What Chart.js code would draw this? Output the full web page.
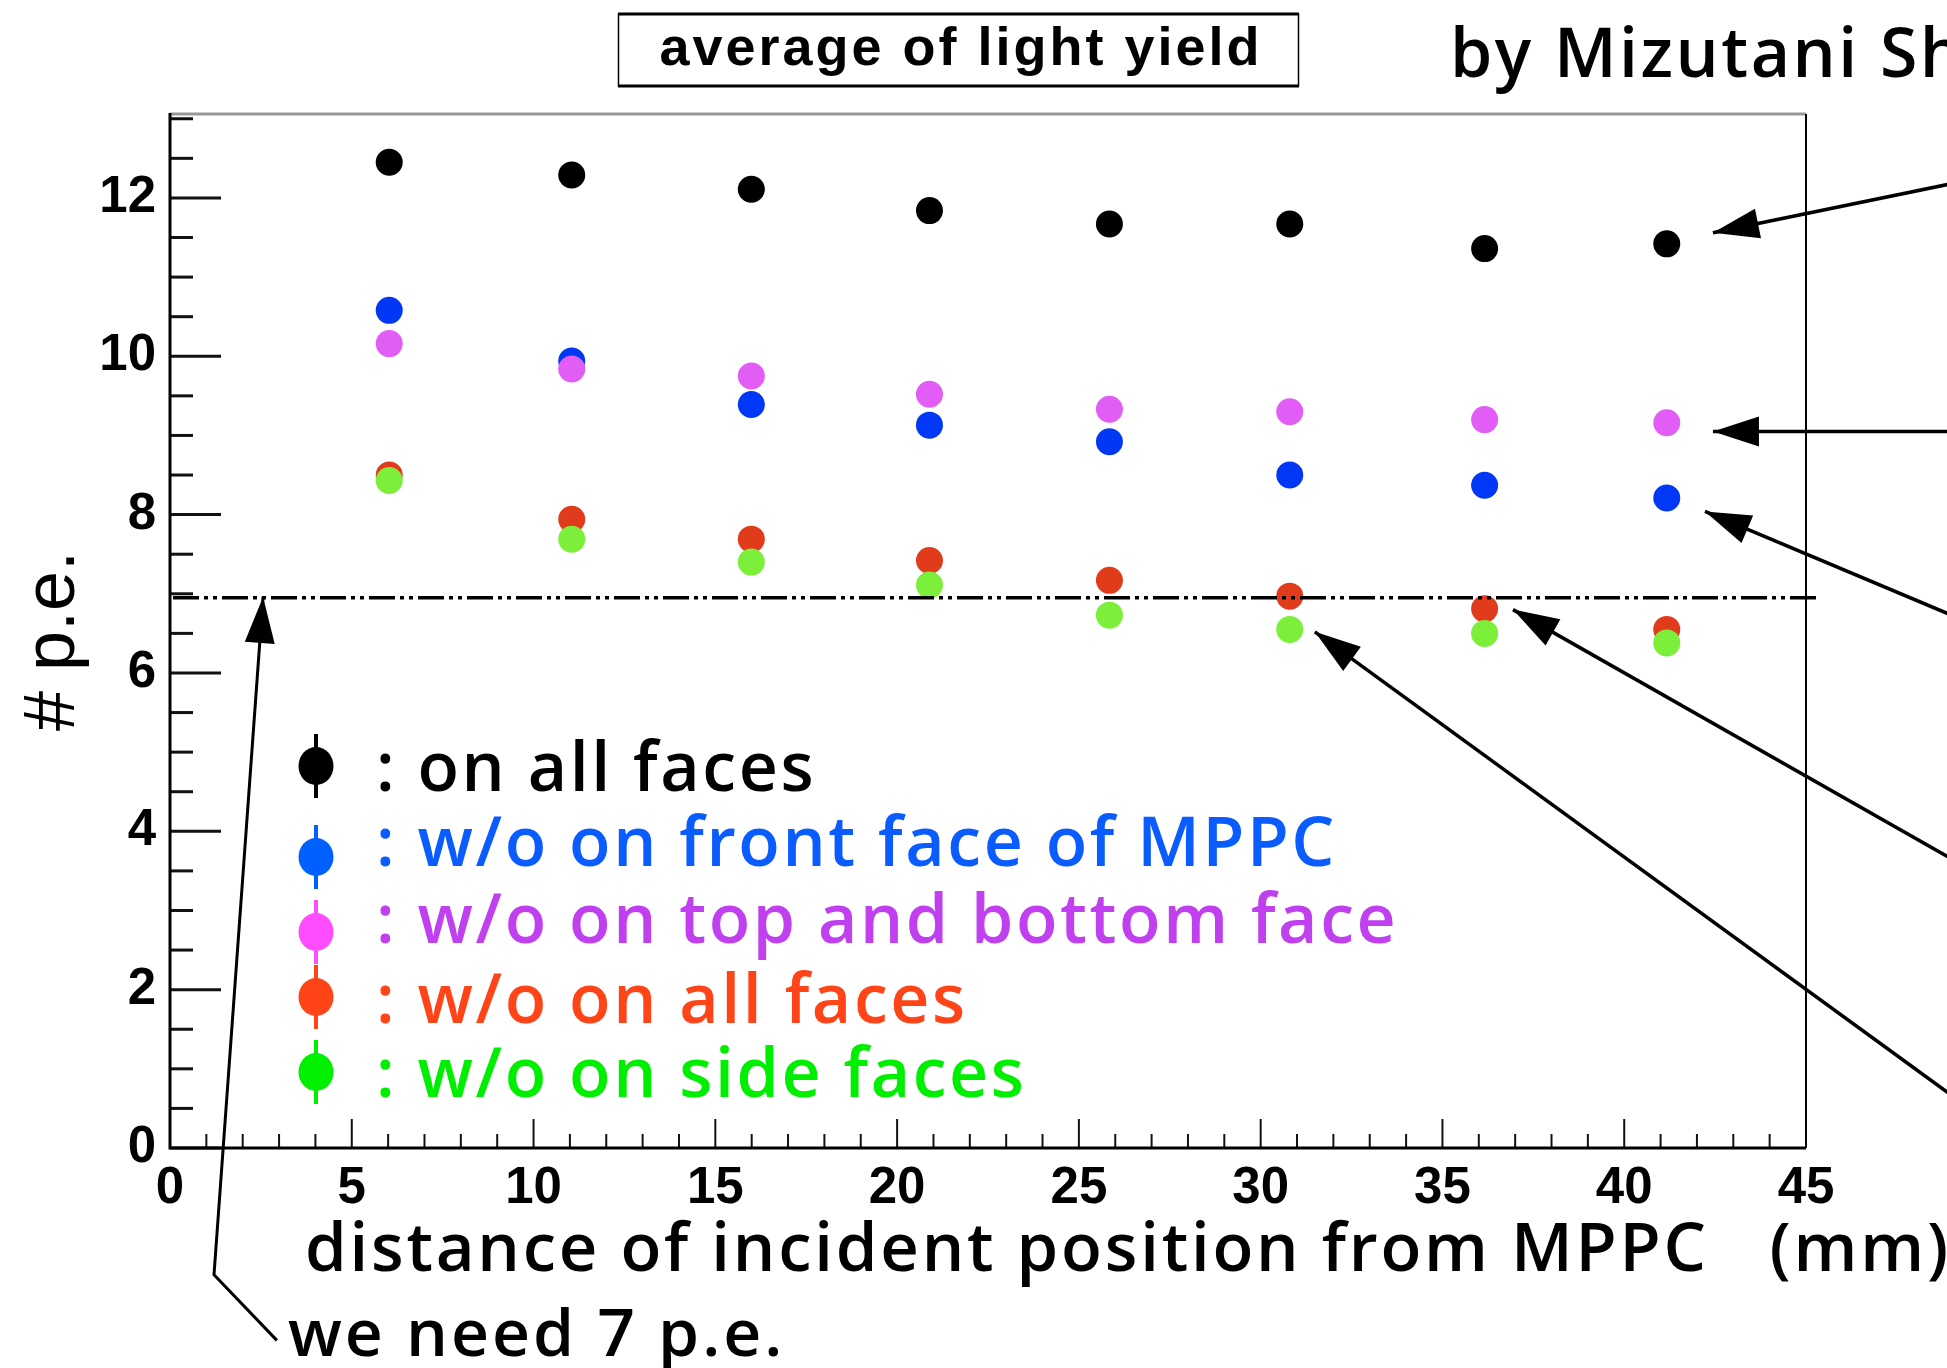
<!DOCTYPE html>
<html>
<head>
<meta charset="utf-8">
<title>average of light yield</title>
<script src="https://cdn.jsdelivr.net/npm/chart.js@4.4.1/dist/chart.umd.min.js"></script>
<style>
  html, body { margin: 0; padding: 0; background: #fff; }
  #wrap { width: 1947px; height: 1368px; }
</style>
</head>
<body>
<div id="wrap"><canvas id="light-yield-chart" width="1947" height="1368"></canvas></div>
<script>
// incident position (mm) and average light yield (p.e.)
var positions = [6.03, 11.05, 15.99, 20.89, 25.84, 30.8, 36.16, 41.17];
var onAllFaces = [12.45, 12.29, 12.11, 11.84, 11.67, 11.67, 11.36, 11.42];
var noFrontFace = [10.58, 9.94, 9.39, 9.13, 8.92, 8.50, 8.37, 8.21];
var noTopBottom = [10.16, 9.84, 9.75, 9.52, 9.33, 9.30, 9.20, 9.16];
var noAllFaces = [8.50, 7.94, 7.69, 7.42, 7.17, 6.97, 6.81, 6.55];
var noSideFaces = [8.43, 7.69, 7.40, 7.11, 6.73, 6.55, 6.50, 6.38];

var seriesNames = [': on all faces', ': w/o on front face of MPPC', ': w/o on top and bottom face', ': w/o on all faces', ': w/o on side faces'];
var pointColors = ['#000000', '#0038f5', '#e25cf6', '#e03c1c', '#7cef3a'];
var legendTextColors = ['#000000', '#0a5cff', '#c040f0', '#ff4418', '#00ee00'];
var legendMarkColors = ['#000000', '#0060ff', '#ff4cff', '#ff4418', '#00f000'];

var xTicks = [0, 5, 10, 15, 20, 25, 30, 35, 40, 45];
var yTicks = [0, 2, 4, 6, 8, 10, 12];
var threshold = 6.95;

// arrows in data coordinates: [tail x, tail y, tip x, tip y]
var arrows = [
    [48.9, 12.17, 42.44, 11.56],
    [48.9, 9.05, 42.44, 9.05],
    [48.9, 6.75, 42.22, 8.04],
    [48.9, 3.68, 36.94, 6.80],
    [48.9, 0.70, 31.49, 6.52]
];
// bent arrow from the "we need 7 p.e." note up to the threshold line
var noteArrow = [[2.94, -2.43], [1.21, -1.60], [2.56, 6.96]];

const SANS = '"Open Sans", "Noto Sans", "Liberation Sans", sans-serif';
const HELV = '"Liberation Sans", Arial, sans-serif';

function arrowHead(ctx, x0, y0, x1, y1) {
    const ang = Math.atan2(y1 - y0, x1 - x0);
    const len = 46, half = 15;
    ctx.beginPath();
    ctx.moveTo(x1, y1);
    ctx.lineTo(x1 - len * Math.cos(ang) + half * Math.sin(ang), y1 - len * Math.sin(ang) - half * Math.cos(ang));
    ctx.lineTo(x1 - len * Math.cos(ang) - half * Math.sin(ang), y1 - len * Math.sin(ang) + half * Math.cos(ang));
    ctx.closePath();
    ctx.fill();
}

const decor = {
    id: 'decor',
    beforeDraw(chart) {
        const ctx = chart.ctx;
        ctx.save();
        ctx.fillStyle = '#fff';
        ctx.fillRect(0, 0, chart.width, chart.height);
        ctx.restore();
    },
    afterDatasetsDraw(chart) {
        const ctx = chart.ctx, x = chart.scales.x, y = chart.scales.y;
        ctx.save();
        ctx.strokeStyle = '#000';
        ctx.lineWidth = 3.5;
        ctx.setLineDash([26, 5, 4, 5, 4, 5]);
        ctx.beginPath();
        ctx.moveTo(x.getPixelForValue(0) + 3, y.getPixelForValue(threshold));
        ctx.lineTo(x.getPixelForValue(45.3), y.getPixelForValue(threshold));
        ctx.stroke();
        ctx.restore();
    },
    afterDraw(chart) {
        const ctx = chart.ctx, x = chart.scales.x, y = chart.scales.y;
        const a = chart.chartArea;
        ctx.save();

        // inner tick marks, ROOT style
        ctx.strokeStyle = '#111';
        ctx.lineWidth = 3;
        for (let v = 0; v <= 13; v += 0.5) {
            const py = y.getPixelForValue(v);
            const len = (v % 2 === 0) ? 51 : 23;
            ctx.beginPath();
            ctx.moveTo(a.left, py);
            ctx.lineTo(a.left + len, py);
            ctx.stroke();
        }
        ctx.lineWidth = 2;
        for (let v = 0; v <= 45; v += 1) {
            const px = x.getPixelForValue(v);
            const len = (v % 5 === 0) ? 29 : 14;
            ctx.beginPath();
            ctx.moveTo(px, a.bottom);
            ctx.lineTo(px, a.bottom - len);
            ctx.stroke();
        }

        // frame
        ctx.lineWidth = 3;
        ctx.strokeStyle = '#999';
        ctx.beginPath(); ctx.moveTo(a.left, a.top); ctx.lineTo(a.right, a.top); ctx.stroke();
        ctx.strokeStyle = '#000';
        ctx.beginPath(); ctx.moveTo(a.left, a.top - 1); ctx.lineTo(a.left, a.bottom); ctx.lineTo(a.right, a.bottom); ctx.stroke();
        ctx.lineWidth = 2;
        ctx.beginPath(); ctx.moveTo(a.right, a.top); ctx.lineTo(a.right, a.bottom); ctx.stroke();

        // title box
        ctx.lineWidth = 1.5;
        ctx.strokeRect(618.5, 14, 680, 72);
        ctx.lineWidth = 3;
        ctx.beginPath(); ctx.moveTo(618, 14); ctx.lineTo(1299, 14); ctx.moveTo(618, 86); ctx.lineTo(1299, 86); ctx.stroke();
        ctx.fillStyle = '#000';
        ctx.textAlign = 'center';
        ctx.textBaseline = 'alphabetic';
        ctx.font = 'bold 54px ' + HELV;
        ctx.letterSpacing = '3px';
        ctx.fillText('average of light yield', 961, 65);

        // author note
        ctx.textAlign = 'left';
        ctx.letterSpacing = '2.5px';
        ctx.font = '600 68px ' + SANS;
        ctx.fillText('by Mizutani Shota', 1450, 77);

        // x axis title
        ctx.font = '600 67px ' + SANS;
        ctx.letterSpacing = '2.8px';
        ctx.fillText('distance of incident position from MPPC   (mm)', 305, 1271);

        // note under the axis
        ctx.font = '600 66px ' + SANS;
        ctx.letterSpacing = '3px';
        ctx.fillText('we need 7 p.e.', 288, 1356);

        // y axis title
        ctx.save();
        ctx.translate(74, 641);
        ctx.rotate(-Math.PI / 2);
        ctx.textAlign = 'center';
        ctx.letterSpacing = '0px';
        ctx.font = '72px ' + HELV;
        ctx.fillText('# p.e.', 0, 0);
        ctx.restore();

        // legend
        const markY = [766, 857, 932, 997, 1072];
        const textY = [791, 866, 943, 1023, 1097];
        ctx.font = '600 68px ' + SANS;
        ctx.letterSpacing = '2.6px';
        seriesNames.forEach(function (name, i) {
            ctx.strokeStyle = legendMarkColors[i];
            ctx.fillStyle = legendMarkColors[i];
            ctx.lineWidth = 4;
            ctx.beginPath();
            ctx.moveTo(316, markY[i] - 32);
            ctx.lineTo(316, markY[i] + 32);
            ctx.stroke();
            ctx.beginPath();
            ctx.ellipse(316, markY[i], 17.5, 19, 0, 0, Math.PI * 2);
            ctx.fill();
            ctx.fillStyle = legendTextColors[i];
            ctx.fillText(name, 376, textY[i]);
        });

        // arrows
        ctx.strokeStyle = '#000';
        ctx.fillStyle = '#000';
        ctx.lineWidth = 3.5;
        arrows.forEach(function (r) {
            const x0 = x.getPixelForValue(r[0]), y0 = y.getPixelForValue(r[1]);
            const x1 = x.getPixelForValue(r[2]), y1 = y.getPixelForValue(r[3]);
            ctx.beginPath();
            ctx.moveTo(x0, y0);
            ctx.lineTo(x1, y1);
            ctx.stroke();
            arrowHead(ctx, x0, y0, x1, y1);
        });
        ctx.lineWidth = 3;
        ctx.beginPath();
        noteArrow.forEach(function (p, i) {
            const px = x.getPixelForValue(p[0]), py = y.getPixelForValue(p[1]);
            if (i === 0) ctx.moveTo(px, py); else ctx.lineTo(px, py);
        });
        ctx.stroke();
        const n = noteArrow.length;
        arrowHead(ctx,
            x.getPixelForValue(noteArrow[n - 2][0]), y.getPixelForValue(noteArrow[n - 2][1]),
            x.getPixelForValue(noteArrow[n - 1][0]), y.getPixelForValue(noteArrow[n - 1][1]));

        ctx.restore();
    }
};

function makeSet(label, values, i) {
    return {
        label: label,
        data: positions.map(function (p, k) { return {x: p, y: values[k]}; }),
        backgroundColor: pointColors[i],
        borderWidth: 0,
        pointRadius: 13.5,
        pointHoverRadius: 13.5,
        order: 5 - i
    };
}

const ctx = document.getElementById('light-yield-chart').getContext('2d');
const tickFont = {family: HELV, weight: 'bold', size: 51};

new Chart(ctx, {
    type: 'scatter',
    data: {
        datasets: [
            makeSet(seriesNames[0], onAllFaces, 0),
            makeSet(seriesNames[1], noFrontFace, 1),
            makeSet(seriesNames[2], noTopBottom, 2),
            makeSet(seriesNames[3], noAllFaces, 3),
            makeSet(seriesNames[4], noSideFaces, 4)
        ]
    },
    options: {
        responsive: false,
        animation: false,
        devicePixelRatio: 1,
        layout: {padding: {top: 114, right: 141, left: 0, bottom: 0}},
        plugins: {legend: {display: false}, tooltip: {enabled: false}},
        scales: {
            x: {
                type: 'linear', min: 0, max: 45,
                afterFit: function (s) { s.height = 220; },
                afterBuildTicks: function (s) { s.ticks = xTicks.map(function (v) { return {value: v}; }); },
                grid: {display: false, drawTicks: false},
                border: {display: false},
                ticks: {color: '#000', font: tickFont, padding: 10, maxRotation: 0, autoSkip: false}
            },
            y: {
                type: 'linear', min: 0, max: 13.06,
                afterFit: function (s) { s.width = 170; },
                afterBuildTicks: function (s) { s.ticks = yTicks.map(function (v) { return {value: v}; }); },
                grid: {display: false, drawTicks: false},
                border: {display: false},
                ticks: {color: '#000', font: tickFont, padding: 14}
            }
        }
    },
    plugins: [decor]
});
</script>
</body>
</html>
